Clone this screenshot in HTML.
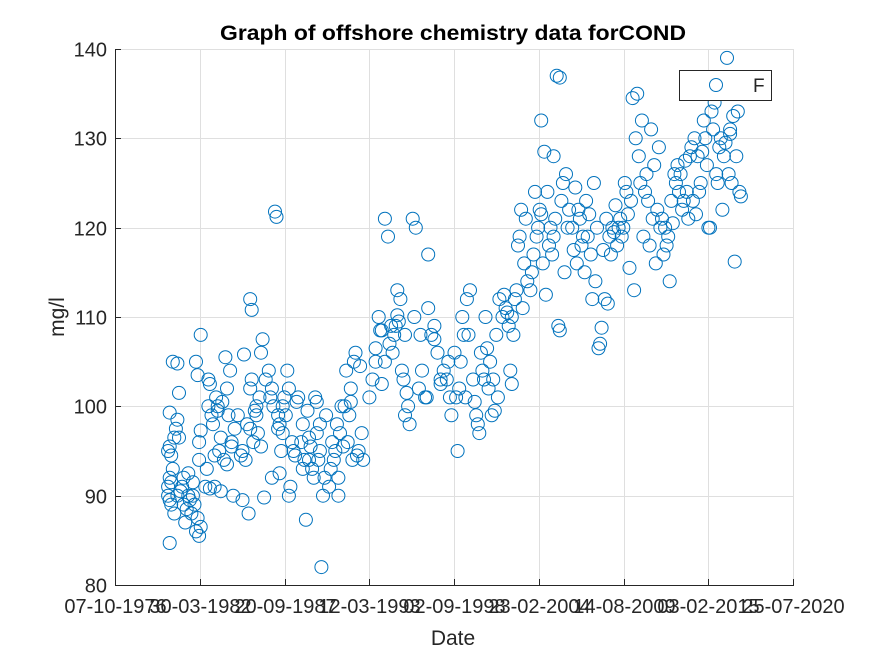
<!DOCTYPE html>
<html><head><meta charset="utf-8"><style>
body{margin:0;background:#fff;}
svg text{font-family:"Liberation Sans",Arial,sans-serif;fill:#262626;}
</style></head><body>
<svg id="chart" width="875" height="656" viewBox="0 0 875 656" xmlns="http://www.w3.org/2000/svg">
<rect width="875" height="656" fill="#fff"/>
<g id="grid"></g>
<g id="points"></g>
<g id="axes"></g>
<text x="453" y="40" text-anchor="middle" font-size="21" font-weight="bold" style="fill:#000" textLength="466" lengthAdjust="spacingAndGlyphs">Graph of offshore chemistry data forCOND</text>
<text x="453" y="645" text-anchor="middle" font-size="21">Date</text>
<text x="0" y="0" transform="translate(64,317) rotate(-90)" text-anchor="middle" font-size="21">mg/l</text>
<g>
<rect x="679.5" y="70.5" width="92" height="30" fill="#fff" stroke="#262626" stroke-width="1"/>
<circle cx="716" cy="85" r="6.5" fill="none" stroke="#0072BD" stroke-width="1"/>
<text x="753" y="92" font-size="19">F</text>
</g>
</svg>
<script>
const xTickLabels=["07-10-1976","30-03-1982","20-09-1987","12-03-1993","02-09-1998","23-02-2004","14-08-2009","03-02-2015","25-07-2020"];
const xTickYears=[1976.767,1982.244,1987.721,1993.197,1998.672,2004.148,2009.622,2015.094,2020.563];
const yTicks=[80,90,100,110,120,130,140];
const dates=[
1980.2,1980.3,1980.4,1980.2,1980.3,1980.5,1980.4,1980.3,1980.6,1980.2,1980.3,1980.7,1980.8,1980.9,1980.5,1980.3,1980.8,1980.9,1980.4,1980.6,1980.8,
1981.0,1981.1,1981.2,1981.3,1981.4,1981.5,1981.6,1981.7,1981.8,1981.9,1982.0,1982.1,1982.2,1982.3,1982.2,1982.1,1982.3,1982.0,1981.5,1981.2,1981.8,1982.2,1982.3,
1982.6,1982.7,1982.8,1982.9,1983.0,1983.1,1983.2,1983.3,1983.4,1983.5,1983.6,1983.7,1983.8,1983.9,1984.0,1984.1,1984.2,1984.3,1984.4,1984.5,1982.8,1983.2,1983.6,1984.0,1984.3,1982.9,1983.4,
1984.7,1985.5,1985.6,1985.0,1985.1,1985.2,1985.3,1985.4,1985.5,1985.6,1985.7,1985.8,1985.9,1986.0,1986.1,1986.2,1986.3,1986.4,1986.5,1985.0,1985.5,1985.9,1984.9,1986.2,
1986.7,1986.8,1986.9,1987.0,1987.1,1987.2,1987.3,1987.4,1987.5,1987.6,1987.7,1987.8,1987.9,1988.0,1988.1,1988.2,1988.3,1988.4,1988.5,1988.6,1987.3,1987.4,1987.6,1986.9,1988.0,
1988.8,1988.9,1989.0,1989.1,1989.2,1989.3,1989.4,1989.5,1989.6,1989.7,1989.8,1989.9,1990.0,1990.1,1990.2,1990.3,1990.4,1989.3,1989.8,1990.0,1988.9,
1990.6,1990.7,1990.8,1990.9,1991.0,1991.1,1991.2,1991.3,1991.4,1991.5,1991.6,1991.7,1991.8,1991.9,1992.0,1992.1,1992.2,1992.3,1992.4,1992.5,1992.6,1992.7,1992.8,1991.2,1992.0,
1993.2,1993.4,1993.6,1993.8,1994.0,1994.2,1994.4,1994.5,1994.6,1994.7,1994.8,1994.9,1995.0,1995.1,1995.2,1995.3,1995.4,1995.5,1995.6,1995.7,1994.0,1994.2,1995.0,1995.5,1993.6,1993.9,
1996.0,1996.2,1996.4,1996.6,1996.8,1997.0,1997.2,1997.4,1997.6,1997.8,1998.0,1998.2,1998.4,1996.1,1996.5,1997.0,1997.4,1997.8,1998.3,1996.9,1995.8,
1998.5,1998.7,1998.9,1999.1,1999.3,1999.5,1999.7,1999.9,2000.1,2000.3,2000.5,2000.7,2000.9,1998.8,1999.2,1999.6,2000.0,2000.4,2000.8,1999.0,1999.4,2000.2,2000.6,
2001.0,2001.2,2001.4,2001.6,2001.8,2002.0,2002.2,2002.4,2001.1,2001.5,2001.9,2002.3,2001.3,2002.1,
2002.4,2002.6,2002.8,2003.0,2003.2,2003.4,2003.6,2003.8,2004.0,2004.2,2002.5,2002.9,2003.3,2003.7,2004.1,2002.7,2003.1,2003.9,
2004.3,2004.5,2004.7,2004.9,2005.1,2005.3,2005.5,2005.7,2005.9,2006.1,2004.4,2004.8,2005.2,2005.6,2006.0,2004.6,2005.0,2005.4,2005.8,2004.3,2005.1,2005.5,
2006.3,2006.5,2006.7,2006.9,2007.1,2007.3,2007.5,2007.7,2007.9,2008.1,2006.4,2006.8,2007.2,2007.6,2008.0,2006.6,2007.0,2007.4,2007.8,2008.2,
2008.3,2008.5,2008.7,2008.9,2009.1,2009.3,2009.5,2009.7,2009.9,2010.1,2008.4,2008.8,2009.2,2009.6,2010.0,2008.6,2009.0,2009.4,2009.8,
2010.2,2010.4,2010.6,2010.8,2011.0,2011.2,2011.4,2011.6,2011.8,2012.0,2010.3,2010.7,2011.1,2011.5,2011.9,2010.5,2010.9,2011.3,2011.7,
2012.1,2012.3,2012.5,2012.7,2012.9,2013.1,2013.3,2013.5,2013.7,2013.9,2012.2,2012.6,2013.0,2013.4,2013.8,2012.4,2012.8,2013.2,2013.6,
2014.0,2014.2,2014.4,2014.6,2014.8,2015.0,2015.2,2015.4,2015.6,2015.8,2014.1,2014.5,2014.9,2015.3,2015.7,2014.3,2014.7,2015.1,2015.5,
2015.9,2016.1,2016.3,2016.5,2016.7,2016.9,2017.1,2016.0,2016.4,2016.8,2017.0,2016.2,2016.6,2017.2,2016.5,2016.9
];
const values=[
90,84.7,89,91,92,93,94.5,95.5,96.5,95,99.3,97.5,98.5,101.5,105,89.5,104.8,96.5,91.5,88,90,
90.5,91,89,87,88.5,90,89.5,88,91.5,89,86,87.5,85.5,86.5,94,103.5,108,105,92.5,92,90,96,97.3,
91,93,100,102.5,99,98,91,101,99.5,95,96.5,100.5,94,105.5,102,99,104,96,90,97.5,103,94.5,90.5,93.5,95.5,90.8,100,
99,112,110.8,95,105.8,94,98,88,102,103,96,99.5,100,97,101,106,107.5,89.8,103,89.5,97.5,99,94.5,95.5,
104,101,102,100,121.8,121.2,99,98,95,97,101,99,104,90,91,96,95,94.5,100.5,101,97.5,92.5,100,92,102,
96,98,94,87.3,99.5,94,95.5,93,92,101,97,94,98,82,90,92,99,96.5,100.5,95,93,
91,93,96,94,95,98,92,97,100,95.5,100,104,96,99,102,94,105,106,94.5,95,104.5,97,94,90,100.5,
101,103,105,110,108.5,121,119,107,109,106,108,109,113,109.5,112,104,103,99,101.5,100,102.5,105,110.2,108,106.5,108.5,
121,120,102,104,101,117,108,109,106,103,104,103,101,110,108,111,107.5,102.5,105,101,98,
99,106,95,105,108,112,113,103,99,97,104,110,102,101,110,108,100.5,106,106.5,102,101,98,103,
105,103,108,112,110,111,109,102.5,99,101,112.5,104,99.5,110.5,
110,112,118,122,116,114,113,117,119,122,108,119,121,115,120,113,111,124,
132,128.5,124,120,119,137,136.8,125,126,122,116,118,121,123,120,112.5,117,109,115,121.5,128,108.5,
120,124.5,122,118,115,119,117,125,120,107,117.5,121,123,112,106.5,116,119,121.5,114,108.8,
117.5,121,119,120,122.5,120,119,125,121.5,123,112,117,118,120,115.5,111.5,119.5,121,124,
134.5,130,128,132,124,123,131,127,122,120,113,125,126,121,129,135,119,118,116,
121,120,119,123,126,127,126,123,124,128,117,114,125,122,121,118,120.5,124,127.5,
129,130,128,125,132,127,120,131,126,129,123,124,130,133,125,121.5,128.5,120,134,
130,128,139,131,132.5,128,124,122,126,116.2,133,129.5,125,123.5,130.5,136
];
const X0=115,X1=793,Y0=585,Y1=49;
const xMin=1976.767,xMax=2020.563,yMin=80,yMax=140;
function xs(v){return X0+(v-xMin)/(xMax-xMin)*(X1-X0);}
function ys(v){return Y0-(v-yMin)/(yMax-yMin)*(Y0-Y1);}
const NS="http://www.w3.org/2000/svg";
const grid=document.getElementById('grid'),axes=document.getElementById('axes'),pts=document.getElementById('points');
function mk(tag,attrs,parent){const e=document.createElementNS(NS,tag);for(const k in attrs)e.setAttribute(k,attrs[k]);parent.appendChild(e);return e;}
xTickYears.forEach((t,i)=>{
 const x=Math.round(xs(t))+0.5;
 const g=mk('line',{x1:x,x2:x,y1:Y1,y2:Y0,stroke:'#dfdfdf','stroke-width':1},grid);
 
 
 const tk=mk('line',{x1:x,x2:x,y1:Y0,y2:Y0-6,stroke:'#262626','stroke-width':1},axes);
 
 
 const tx=mk('text',{x:x,y:Y0+28,'text-anchor':'middle','font-size':20},axes);
 
 
 tx.textContent=xTickLabels[i];
});
yTicks.forEach(t=>{
 const y=Math.round(ys(t))+0.5;
 const g=mk('line',{x1:X0,x2:X1,y1:y,y2:y,stroke:'#dfdfdf','stroke-width':1},grid);
 
 
 const tk=mk('line',{x1:X0,x2:X0+6,y1:y,y2:y,stroke:'#262626','stroke-width':1},axes);
 
 
 const tx=mk('text',{x:X0-8,y:y+7,'text-anchor':'end','font-size':20},axes);
 
 
 tx.textContent=t;
});
const xa=mk('line',{x1:X0,x2:X1+1,y1:Y0+0.5,y2:Y0+0.5,stroke:'#262626','stroke-width':1},axes);


const ya=mk('line',{x1:X0+0.5,x2:X0+0.5,y1:Y1,y2:Y0+1,stroke:'#262626','stroke-width':1},axes);


dates.forEach((d,i)=>{
 const c=mk('circle',{cx:xs(d).toFixed(1),cy:ys(values[i]).toFixed(1),r:6.5,fill:'none',stroke:'#0072BD','stroke-width':1},pts);
 
 
});
</script>
</body></html>
